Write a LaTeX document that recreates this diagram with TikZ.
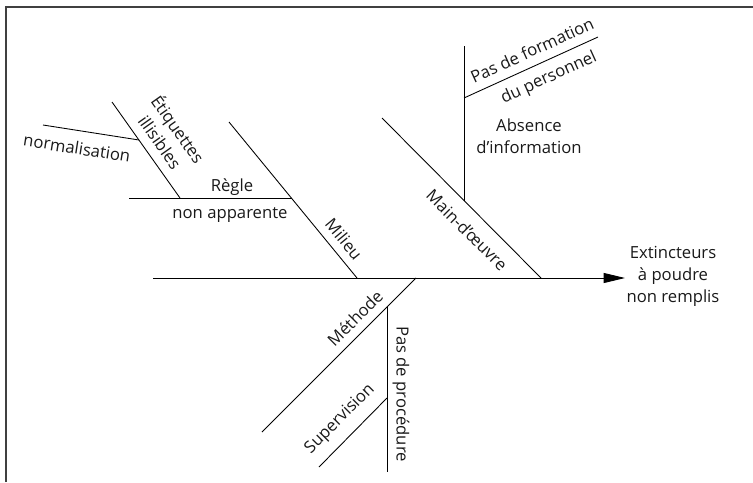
\documentclass[tikz,border=0pt]{standalone}
\usepackage{fontspec}
\setmainfont{Open Sans}
\usetikzlibrary{arrows.meta,positioning}

\begin{document}
\begin{tikzpicture}[
  x=0.75pt, y=-0.75pt,
  every node/.style={
    font=\fontsize{12.5}{16.5}\selectfont, text=black!90,
    align=center, inner sep=1pt
  },
  bone/.style={line width=0.65pt},
  frame/.style={line width=1.4pt, draw=black!75},
  arrow/.style={bone, -{Triangle[length=16pt, width=7.5pt]}}
]
\useasboundingbox (0,0) rectangle (753,482);

\coordinate (fr-bl) at (6,482);
\coordinate (fr-tl) at (6,7);
\coordinate (fr-tr) at (753,7);
\draw[frame] (fr-bl) -- (fr-tl) -- (fr-tr);

\coordinate (tail) at (153,278);
\coordinate (head) at (625,278);
\coordinate (mo-top) at (382,118);
\coordinate (mo-bot) at (541,278);
\coordinate (abs-top) at (464,46);
\coordinate (abs-bot) at (464,201);
\coordinate (form-in) at (464,98);
\coordinate (form-out) at (598,37);
\coordinate (mil-top) at (229,122);
\coordinate (mil-bot) at (357,278);
\coordinate (reg-out) at (129,198);
\coordinate (reg-in) at (292,198);
\coordinate (etq-top) at (112,102);
\coordinate (etq-bot) at (180,198);
\coordinate (norm-out) at (43,125);
\coordinate (norm-in) at (139,140);
\coordinate (met-top) at (416,278);
\coordinate (met-bot) at (262,432);
\coordinate (proc-top) at (387,307);
\coordinate (proc-bot) at (387,472);
\coordinate (sup-in) at (387,398);
\coordinate (sup-out) at (319,467);

\node (effect) at (673,276) {Extincteurs\\à poudre\\non remplis};
\node (mo) [rotate=-45] at (467,230) {Main-d'œuvre};
\node (absence) at (529,136) {Absence\\d'information};
\node (formation) [rotate=24.5] at (532,50) {Pas de formation};
\node (personnel) [rotate=24.5] at (549,78) {du personnel};
\node (milieu) [rotate=-50.4] at (344,239) {Milieu};
\node (regle) at (232,187) {Règle};
\node (apparente) at (230,215) {non apparente};
\node (etiquettes) [rotate=-54.7] at (170,135) {Étiquettes\\illisibles};
\node (norm) [rotate=-8.9] at (77,148) {normalisation};
\node (methode) [rotate=45] at (355,318) {Méthode};
\node (procedure) [rotate=-90] at (401,394) {Pas de procédure};
\node (supervision) [rotate=45] at (340,419) {Supervision};

\draw[arrow] (tail) -- (head);
\draw[bone] (mo-top) -- (mo-bot);
\draw[bone] (abs-top) -- (abs-bot);
\draw[bone] (form-in) -- (form-out);
\draw[bone] (mil-top) -- (mil-bot);
\draw[bone] (reg-out) -- (reg-in);
\draw[bone] (etq-top) -- (etq-bot);
\draw[bone] (norm-out) -- (norm-in);
\draw[bone] (met-top) -- (met-bot);
\draw[bone] (proc-top) -- (proc-bot);
\draw[bone] (sup-in) -- (sup-out);

\end{tikzpicture}
\end{document}
